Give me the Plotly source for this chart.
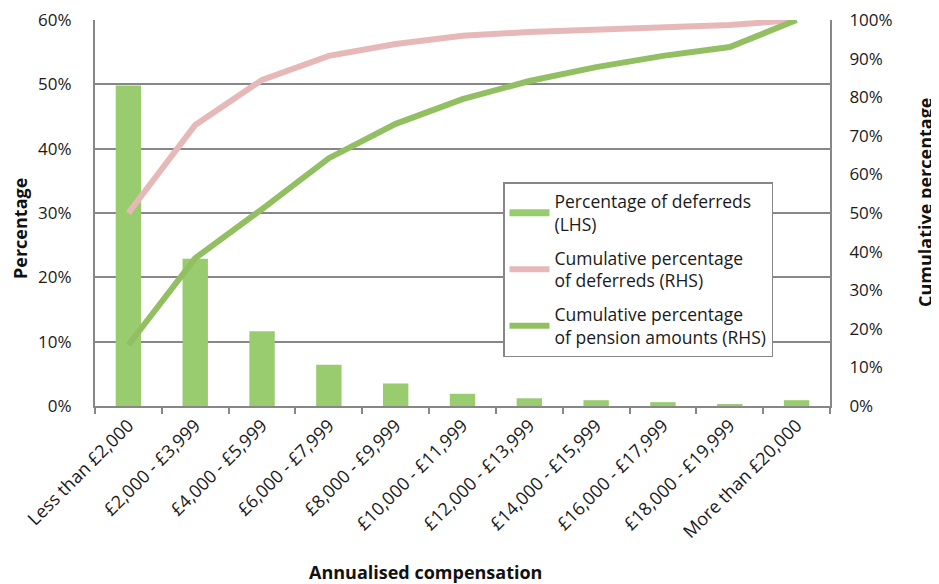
import plotly.graph_objects as go

# compensation bands
bands = ["Less than £2,000", "£2,000 - £3,999", "£4,000 - £5,999", "£6,000 - £7,999",
         "£8,000 - £9,999", "£10,000 - £11,999", "£12,000 - £13,999", "£14,000 - £15,999",
         "£16,000 - £17,999", "£18,000 - £19,999", "More than £20,000"]

# percentage of deferreds (LHS)
pct_deferreds = [49.8, 22.9, 11.6, 6.4, 3.5, 1.9, 1.2, 0.9, 0.6, 0.3, 0.9]

# cumulative percentages (RHS)
cum_deferreds = [50.0, 72.8, 84.5, 90.7, 93.8, 95.9, 96.9, 97.6, 98.2, 98.7, 100.0]
cum_pension = [15.8, 38.3, 51.0, 64.2, 73.1, 79.5, 84.2, 87.8, 90.7, 93.0, 100.0]

bar_green = "#99CC6E"
pink = "#E6B9B8"
line_green = "#93BF63"
grey = "#878787"
font = "Open Sans"

fig = go.Figure()

# bars, legend drawn through a line-style dummy below
fig.add_trace(go.Bar(x=bands, y=pct_deferreds, marker=dict(color=bar_green, line=dict(width=0)),
                     showlegend=False, yaxis="y"))
fig.add_trace(go.Scatter(x=[None], y=[None], mode="lines", line=dict(color=bar_green, width=7),
                         name="Percentage of deferreds<br>(LHS)", legendgroup="a"))
fig.add_trace(go.Scatter(x=bands, y=cum_deferreds, mode="lines", line=dict(color=pink, width=6),
                         name="Cumulative percentage<br>of deferreds (RHS)", yaxis="y2", legendgroup="b"))
fig.add_trace(go.Scatter(x=bands, y=cum_pension, mode="lines", line=dict(color=line_green, width=6),
                         name="Cumulative percentage<br>of pension amounts (RHS)", yaxis="y2", legendgroup="c"))

# axis titles as annotations so the margins stay fixed
title_font = dict(family=font, size=18, color="#111111")
fig.add_annotation(text="<b>Annualised compensation</b>", xref="paper", yref="paper",
                   x=0.449, y=0, yshift=-166, showarrow=False, font=title_font,
                   xanchor="center", yanchor="middle")
fig.add_annotation(text="<b>Percentage</b>", xref="paper", yref="paper",
                   x=0, xshift=-75, y=0.4585, showarrow=False, font=title_font,
                   textangle=-90, xanchor="center", yanchor="middle")
fig.add_annotation(text="<b>Cumulative percentage</b>", xref="paper", yref="paper",
                   x=1, xshift=95, y=0.526, showarrow=False, font=title_font,
                   textangle=-90, xanchor="center", yanchor="middle")

# page body adds an 8px offset, so the figure is 8px smaller than the window
fig.update_layout(
    width=931, height=576,
    margin=dict(l=87, r=109, t=12, b=178),
    plot_bgcolor="white", paper_bgcolor="white",
    font=dict(family=font, size=17, color="#1a1a1a"),
    bargap=0.62,
    xaxis=dict(
        tickangle=-45, tickson="boundaries", ticks="outside", ticklen=6, tickcolor=grey, tickwidth=2,
        showline=True, linecolor=grey, linewidth=2, showgrid=False, automargin=False,
        tickfont=dict(size=18),
    ),
    yaxis=dict(
        range=[0, 60], dtick=10, ticksuffix="%", showgrid=True, gridcolor=grey, gridwidth=1.5,
        showline=True, linecolor=grey, linewidth=2, zeroline=False, ticklabelstandoff=18,
        automargin=False, tickfont=dict(size=17), ticklabeloverflow="allow",
    ),
    yaxis2=dict(
        range=[0, 100], dtick=10, ticksuffix="%", overlaying="y", side="right", showgrid=False,
        showline=True, linecolor=grey, linewidth=2, zeroline=False, ticklabelstandoff=14,
        automargin=False, tickfont=dict(size=17), ticklabeloverflow="allow",
    ),
    legend=dict(
        x=(503 - 95) / 735, y=(406 - 182) / 386, xanchor="left", yanchor="top",
        bordercolor=grey, borderwidth=1.5, bgcolor="white",
        font=dict(size=17.5), tracegroupgap=8, itemwidth=40,
    ),
)

fig.write_html("out.html")
